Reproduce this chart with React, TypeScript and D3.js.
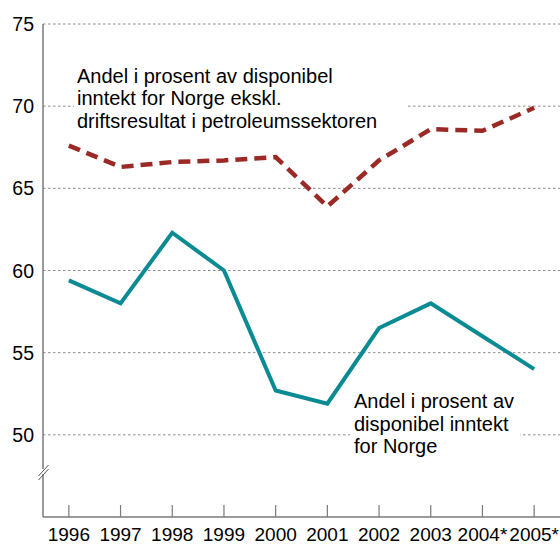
import { useMemo } from 'react';
import * as d3 from 'd3';

const WIDTH = 560;
const HEIGHT = 544;

const years = ['1996', '1997', '1998', '1999', '2000', '2001', '2002', '2003', '2004*', '2005*'];
const eksklPetroleum = [67.6, 66.3, 66.6, 66.7, 66.9, 63.9, 66.7, 68.6, 68.5, 69.9];
const norge = [59.4, 58.0, 62.3, 60.0, 52.7, 51.9, 56.5, 58.0, 56.0, 54.0];
const yTicks = [50, 55, 60, 65, 70, 75];
const labelTop = ['Andel i prosent av disponibel', 'inntekt for Norge ekskl.', 'driftsresultat i petroleumssektoren'];
const labelBottom = ['Andel i prosent av', 'disponibel inntekt', 'for Norge'];

const AXIS_X = 43;
const AXIS_Y = 517;
const TOP_Y = 24;
const FONT = '"Liberation Sans", Arial, sans-serif';

export default function App() {
  const x = useMemo(
    () => d3.scalePoint<string>().domain(years).range([AXIS_X, WIDTH]).padding(0.5),
    []
  );
  const y = useMemo(() => d3.scaleLinear().domain([45, 75]).range([AXIS_Y, TOP_Y]), []);

  const line = d3
    .line<number>()
    .x((_, i) => x(years[i]) as number)
    .y((d) => y(d));

  return (
    <svg
      width={WIDTH}
      height={HEIGHT}
      style={{ position: 'absolute', left: 0, top: 0, background: '#fff' }}
      fontFamily={FONT}
    >
      {/* rutenett */}
      {yTicks.map((t) => (
        <g key={t}>
          <line
            x1={AXIS_X}
            x2={WIDTH}
            y1={y(t)}
            y2={y(t)}
            stroke="#8c8c8c"
            strokeWidth={1}
            strokeDasharray="2.5,2.5"
          />
          <text x={34} y={y(t) + 7} textAnchor="end" fontSize={19.5} fill="#000">
            {t}
          </text>
        </g>
      ))}

      {/* bakgrunn bak tekstene */}
      <rect x={74} y={60} width={332} height={76} fill="#fff" />
      <rect x={350} y={390} width={170} height={70} fill="#fff" />

      {/* akser */}
      <line x1={AXIS_X} x2={AXIS_X} y1={TOP_Y} y2={AXIS_Y} stroke="#7a7a7a" strokeWidth={1.5} />
      <line x1={AXIS_X} x2={WIDTH} y1={AXIS_Y} y2={AXIS_Y} stroke="#7a7a7a" strokeWidth={1.5} />
      <rect x={38} y={469} width={11} height={5} fill="#fff" />
      <line x1={38.5} y1={476} x2={48.5} y2={465} stroke="#555" strokeWidth={1} />
      <line x1={38.5} y1={480} x2={48.5} y2={469} stroke="#555" strokeWidth={1} />

      {years.map((yr) => (
        <g key={yr}>
          <line
            x1={x(yr)}
            x2={x(yr)}
            y1={AXIS_Y}
            y2={AXIS_Y - 12}
            stroke="#7a7a7a"
            strokeWidth={1.2}
          />
          <text x={x(yr)} y={541} textAnchor="middle" fontSize={19} fill="#000">
            {yr}
          </text>
        </g>
      ))}

      {/* linjer */}
      <path
        d={line(norge) ?? ''}
        fill="none"
        stroke="#0a8b94"
        strokeWidth={4}
        strokeLinejoin="miter"
      />
      <path
        d={line(eksklPetroleum) ?? ''}
        fill="none"
        stroke="#9b2a26"
        strokeWidth={4.5}
        strokeDasharray="12,7"
      />

      {/* tekster */}
      <text x={77} fontSize={20} fill="#000">
        {labelTop.map((s, i) => (
          <tspan key={i} x={77} y={83 + i * 22.3}>
            {s}
          </tspan>
        ))}
      </text>
      <text x={354} fontSize={20} fill="#000">
        {labelBottom.map((s, i) => (
          <tspan key={i} x={354} y={408 + i * 22.6}>
            {s}
          </tspan>
        ))}
      </text>
    </svg>
  );
}
